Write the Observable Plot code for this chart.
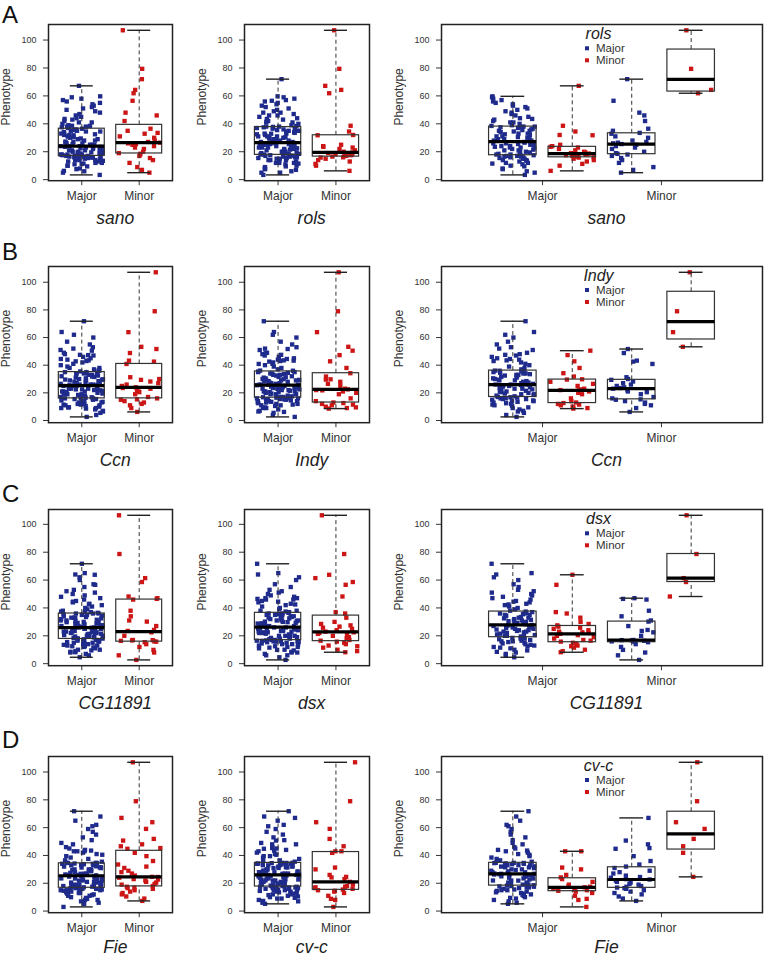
<!DOCTYPE html>
<html><head><meta charset="utf-8">
<script src="https://cdn.jsdelivr.net/npm/d3@7"></script>
<script src="https://cdn.jsdelivr.net/npm/@observablehq/plot@0.6"></script>
<style>
body{margin:0;background:#fff;}
#fig{position:relative;width:765px;height:958px;overflow:hidden;background:#fff;}
#fig svg{position:absolute;overflow:visible;}
</style></head><body><div id="fig"></div>
<script>
// ---------------- data ----------------
const levels = ["Major", "Minor"];
const panelLetters = ["A", "B", "C", "D"];
const gene1 = ["sano", "Ccn", "CG11891", "Fie"];   // x-axis gene of the right panels
const gene2 = ["rols", "Indy", "dsx", "cv-c"];     // legend gene of the right panels
const yTicks = [0, 20, 40, 60, 80, 100];

// Row A: sano x rols  (MM = sano Major & rols Major, Mm = sano Major & rols Minor, ...)
const A_MM = [3.4,5,6,7.5,8,9.5,10,11,11.5,12,12,13,13.5,14,14,15,15,15.5,16,16,16.5,16.5,17,17,17.2,17.5,
  18,18,18.5,19,19.5,20,20,21,21,21.5,22,22.5,23,23,23.5,24,24,25,25,25.5,26,26,26.5,27,27.3,
  28,28,29,29,29.5,30,30.5,31,31,32,32.5,33,33,34,34.5,35,35,35.5,36,36.5,37,37.5,37.8,38,38,
  38.5,39,40,41,41,42,43,43.5,44,45,46,47,48,49,50,51,52,53,54,55,56,57,58,59,59.7];
const A_Mm = [6.3,10,11.3,13,14,15,15.8,16,16.5,17,17.5,18,18,18.3,18.7,19,19.5,20,21,22,23,23.5,24,25,31.8,32,34.5,38.6,67.2];
const A_mM = [5,7,9,12,14,15.5,17,18,18.5,19,20,22,23,24,25,25.5,26,26.5,27,28,30,31,32.9,33.5,35,36.5,42,46,48,56.5,72];
const A_mm = [61.9,64.3,79.4,107];

// Row B: Ccn x Indy
const B_MM = [2.6,4,5.5,6.5,7,8,9,9.5,10.5,11,11.5,12,12.5,13,13.5,14,14,14.5,15,15.5,15.5,16,16,16.5,16.8,17,
  17.5,18,18.5,19,19,19.5,20,20.5,21,21,21.5,22,22.5,23,23,23.5,24,24.5,25,25,25.5,25.8,26,26,26,
  26.5,27,27.5,28,28.5,29,29,29.5,30,30.5,31,31.5,32,32.5,33,33,33.5,34,34,34.5,35,35,35.5,36,36.1,
  37,38,39,40,41,42,43,43.5,44,44.5,45,46,47,47.5,48,49,51,52,53,55,57,60,62,64,71.8];
const B_Mm = [8.6,9,9.5,10,11,11.5,12,12.6,13,14,16,19,20,21,21.8,22,22.5,23,25,26.5,28,29.6,29.8,31.8,34.2,38,42.8,47.3,50.5];
const B_mM = [6.2,9,11,12,13,14,15,15.3,16,17,19,20.5,21,22,23,23.5,24,25,26,27,28.2,29.4,30,31.3,40.9,42.6,43.3,48.8,51.7];
const B_mm = [53.3,63.9,79,107.2];

// Row C: CG11891 x dsx
const C_MM = [4.6,6,7,8,8.5,9.5,10,11,11.5,12,12.5,13,13.5,14,14.5,15,15.5,16,16,16.5,17,17.5,18,18,18.5,19,
  19.5,20,20,20.5,21,21.5,22,22,22.5,23,23,23.5,24,24,24.5,25,25,25.5,26,26,26.5,27,27,27.5,27.8,
  28.3,28.8,29,29.3,29.8,30,30.5,31,31,31.5,32,32.5,33,33,33.5,34,34.5,35,35,35.5,36,36,36.5,37,37.4,
  38,39,40,41,42,42.5,43,44,44.5,45,46,47,48,49,50,51,52,53,55,57,60,62,64,65,71.7];
const C_Mm = [8.2,9,10,11.5,12.5,13,14,15,15.8,16.5,17,18,19,20,20.5,21.4,22,22.5,23,24,25,25.8,26.6,27.5,28.5,30,33,36,37,56.6,63.8];
const C_mM = [2.7,6,8,9.9,12,14,15.4,15.8,16,16.4,16.7,16.9,17,20,22.5,23.5,24.2,27,30.2,31,34,38,46,46.5,47];
const C_mm = [48.2,58.6,61.4,78.7,106.5];

// Row D: Fie x cv-c
const D_MM = [5.2,6,7,8,9,9.5,10,11,11.5,12,12.5,13,13.5,14,14.5,15,15,15.5,16,16.5,17,17,17.5,17.8,18,18.3,
  18.6,19,19,19.8,20.5,20.5,21,21.9,22,22,22.7,23.4,23.5,24,24,24.8,25,25.1,25.7,26,26,26.3,26.5,26.8,26.8,
  27,27.5,27.9,28,28.6,29,29.5,30,30,30.9,31.4,31.5,32,32.2,32.9,33,33,33.7,34,34,34.2,34.5,34.6,34.7,34.7,
  35.5,36.5,37.5,38.5,39.5,40.5,41,42,43,43.5,44,45,46,48,49,51,53,55,57,59,61,62,65,68,71.8];
const D_Mm = [3,8,8.8,11,13,14,14.6,15,15.5,16,16.5,17.1,17.5,18,19,21,23,24.2,26,30,31.3,43,43];
const D_mM = [7.3,9,10.5,12,13,14,15,16,16.5,16.9,17.5,18,19,19.5,20.5,21,22,22.7,23,24,24.5,25.5,27,28,29,31,32,33.5,36,39.5,44.8,45.3,48,50.7,67];
const D_mm = [24.6,41.9,46.6,51.9,59.1,63.9,79,107];

// ---------------- styling / layout ----------------
const BLUE = "#1f2b8c", RED = "#cc1515";
const FONT = "'Liberation Sans', Arial, Helvetica, sans-serif";
const FRAME_TOP = [24.3, 266, 509.3, 756];
const FRAME_H = 156.2;
const FRAME_L = [48.3, 244.2, 441];
const FRAME_W = [124, 125, 321];
const ML = 46, MR = 4, MT = 4, MB = 30;

const rows = [
  {MM: A_MM, Mm: A_Mm, mM: A_mM, mm: A_mm},
  {MM: B_MM, Mm: B_Mm, mM: B_mM, mm: B_mm},
  {MM: C_MM, Mm: C_Mm, mM: C_mM, mm: C_mm},
  {MM: D_MM, Mm: D_Mm, mM: D_mM, mm: D_mm}
];

function fivenum(a) {
  const x = [...a].sort((p, q) => p - q), n = x.length;
  const n4 = Math.floor((n + 3) / 2) / 2;
  return [1, n4, (n + 1) / 2, n + 1 - n4, n].map(v => 0.5 * (x[Math.floor(v) - 1] + x[Math.ceil(v) - 1]));
}
function jit(i, s) { const t = Math.sin((i + 1) * 12.9898 + s * 78.233) * 43758.5453; return t - Math.floor(t) - 0.5; }

const fig = document.getElementById("fig");

function panel(r, c, groups, xDomain, ticks, yDomain) {
  const stats = groups.map(g => { const f = fivenum(g.vals); return {pos: g.pos, min: f[0], lh: f[1], med: f[2], uh: f[3], max: f[4]}; });
  const pts = [];
  groups.forEach((g, gi) => g.vals.forEach((v, i) => pts.push({x: g.pos + 0.74 * jit(i, r * 17 + c * 5 + gi), v, color: g.color})));
  const tickLabel = new Map(ticks.map((t, i) => [t, levels[i]]));
  const W = FRAME_W[c] + ML + MR, H = FRAME_H + MT + MB;
  const svg = Plot.plot({
    width: W, height: H, marginLeft: ML, marginRight: MR, marginTop: MT, marginBottom: MB,
    style: {fontFamily: FONT, fontSize: "9px", color: "#333", background: "transparent", overflow: "visible"},
    x: {type: "linear", domain: xDomain},
    y: {domain: yDomain},
    marks: [
      Plot.axisY({ticks: yTicks, tickSize: 5, tickPadding: 7, fontSize: 9, label: null, stroke: "#333", fill: "#333"}),
      Plot.axisX({ticks, tickFormat: d => tickLabel.get(d), tickSize: 5, tickPadding: 6, fontSize: 12, label: null, stroke: "#333", fill: "#333"}),
      Plot.dot(pts.filter(d => d.color === "b"), {x: "x", y: "v", symbol: "square", r: 2.45, fill: BLUE, stroke: null}),
      Plot.dot(pts.filter(d => d.color === "r"), {x: "x", y: "v", symbol: "square", r: 2.45, fill: RED, stroke: null}),
      Plot.ruleX(stats, {x: "pos", y1: "uh", y2: "max", stroke: "#333", strokeWidth: 1, strokeDasharray: "4,3"}),
      Plot.ruleX(stats, {x: "pos", y1: "min", y2: "lh", stroke: "#333", strokeWidth: 1, strokeDasharray: "4,3"}),
      Plot.ruleY(stats, {y: "max", x1: d => d.pos - 0.2, x2: d => d.pos + 0.2, stroke: "#222", strokeWidth: 1.4}),
      Plot.ruleY(stats, {y: "min", x1: d => d.pos - 0.2, x2: d => d.pos + 0.2, stroke: "#222", strokeWidth: 1.4}),
      Plot.rect(stats, {x1: d => d.pos - 0.4, x2: d => d.pos + 0.4, y1: "lh", y2: "uh", fill: "none", stroke: "#333", strokeWidth: 1.2}),
      Plot.ruleY(stats, {y: "med", x1: d => d.pos - 0.4, x2: d => d.pos + 0.4, stroke: "#000", strokeWidth: 3.2}),
      Plot.frame({stroke: "#222", strokeWidth: 1.5})
    ]
  });
  svg.style.left = (FRAME_L[c] - ML) + "px";
  svg.style.top = (FRAME_TOP[r] - MT) + "px";
  fig.appendChild(svg);
}

rows.forEach((d, r) => {
  const all = [...d.MM, ...d.Mm, ...d.mM, ...d.mm];
  const [lo, hi] = d3.extent(all), pad = 0.04 * (hi - lo);
  const yDomain = [lo - pad, hi + pad];
  panel(r, 0, [{pos: 1, vals: [...d.MM, ...d.Mm], color: "b"}, {pos: 2, vals: [...d.mM, ...d.mm], color: "r"}], [0.42, 2.58], [1, 2], yDomain);
  panel(r, 1, [{pos: 1, vals: [...d.MM, ...d.mM], color: "b"}, {pos: 2, vals: [...d.Mm, ...d.mm], color: "r"}], [0.42, 2.58], [1, 2], yDomain);
  panel(r, 2, [{pos: 1, vals: d.MM, color: "b"}, {pos: 2, vals: d.Mm, color: "r"}, {pos: 3, vals: d.mM, color: "b"}, {pos: 4, vals: d.mm, color: "r"}], [-0.2, 5.2], [1.5, 3.5], yDomain);
});

// ---------------- text overlay ----------------
const ov = d3.select(fig).append("svg").attr("width", 765).attr("height", 958).style("left", "0px").style("top", "0px")
  .style("font-family", FONT).style("pointer-events", "none");
const letterY = [22.7, 260, 501.7, 748.3];
panelLetters.forEach((L, r) => {
  ov.append("text").attr("x", 2).attr("y", letterY[r]).attr("font-size", 24).attr("fill", "#111").text(L);
  const fb = FRAME_TOP[r] + FRAME_H, fmid = FRAME_TOP[r] + FRAME_H / 2 - 5.5;
  const xl = [gene1[r], gene2[r], gene1[r]];
  FRAME_L.forEach((fl, c) => {
    const bx = fl - 38.1;
    ov.append("text").attr("transform", `translate(${bx},${fmid}) rotate(-90)`).attr("text-anchor", "middle")
      .attr("font-size", 12).attr("fill", "#333").text("Phenotype");
    ov.append("text").attr("x", fl + FRAME_W[c] / 2 + 5).attr("y", Math.min(fb + 43.5, 953)).attr("text-anchor", "middle")
      .attr("font-size", 17.5).attr("font-style", "italic").attr("fill", "#222").text(xl[c]);
  });
  // legend of the right panel
  const cx = FRAME_L[2] + FRAME_W[2] / 2, ft = FRAME_TOP[r];
  ov.append("text").attr("x", cx - 3).attr("y", ft + 14.5).attr("text-anchor", "middle").attr("font-size", 16)
    .attr("font-style", "italic").attr("fill", "#222").text(gene2[r]);
  [[BLUE, levels[0], 28], [RED, levels[1], 40]].forEach(([col, lab, dy]) => {
    ov.append("rect").attr("x", cx - 16.5).attr("y", ft + dy - 6).attr("width", 4).attr("height", 4).attr("fill", col);
    ov.append("text").attr("x", cx - 5.5).attr("y", ft + dy).attr("font-size", 11.5).attr("fill", "#333").text(lab);
  });
});
</script>
</body></html>
